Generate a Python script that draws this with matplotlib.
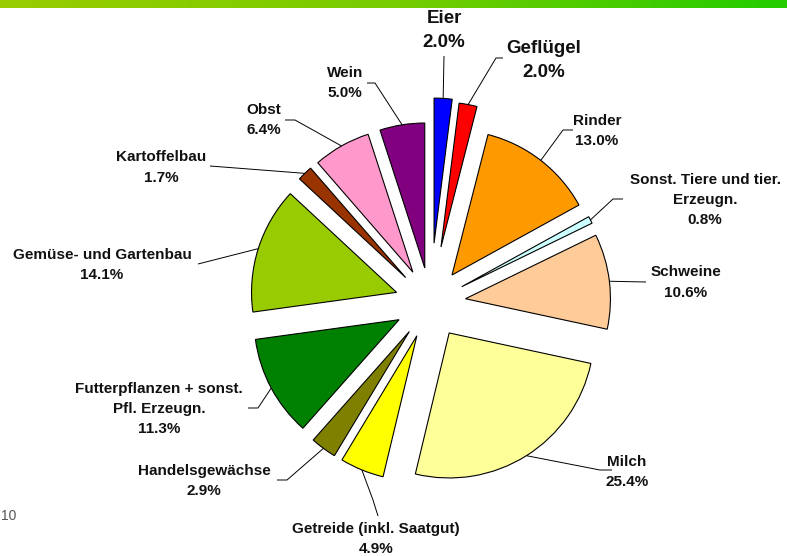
import numpy as np
import matplotlib
matplotlib.use("Agg")
import matplotlib.pyplot as plt
from matplotlib.colors import LinearSegmentedColormap

# ---- data ----
categories = ["Eier", "Geflügel", "Rinder", "Sonst. Tiere und tier.\nErzeugn.", "Schweine",
              "Milch", "Getreide (inkl. Saatgut)", "Handelsgewächse",
              "Futterpflanzen + sonst.\nPfl. Erzeugn.", "Gemüse- und Gartenbau",
              "Kartoffelbau", "Obst", "Wein"]
values = [2.0, 2.0, 13.0, 0.8, 10.6, 25.4, 4.9, 2.9, 11.3, 14.1, 1.7, 6.4, 5.0]
value_labels = ["2.0%", "2.0%", "13.0%", "0.8%", "10.6%", "25.4%", "4.9%", "2.9%",
                "11.3%", "14.1%", "1.7%", "6.4%", "5.0%"]

# ---- style ----
colors = ["#0000FF", "#FF0000", "#FF9900", "#CCFFFF", "#FFCC99", "#FFFF99", "#FFFF00",
          "#808000", "#008000", "#99CC00", "#993300", "#FF99CC", "#800080"]
explode_px = [60, 57, 35.4, 35.4, 35.4, 35.4, 35.4, 35.4, 35.4, 35.4, 35.4, 35.4, 35.4]
big = [True, True] + [False] * 11

W, H = 787, 556
fig = plt.figure(figsize=(W / 100, H / 100), dpi=100)
ax = fig.add_axes([0, 0, 1, 1])

def P(x, y):
    """image pixel coords -> data coords"""
    return (x, H - y)

cx, cy = P(430.3, 303)
R = 145
wedges, _ = ax.pie(values, colors=colors, explode=explode_px, startangle=90,
                   counterclock=False, radius=R, center=(cx, cy),
                   wedgeprops=dict(edgecolor="black", linewidth=0.8))
ax.set_xlim(0, W)
ax.set_ylim(0, H)
ax.set_aspect("equal")
ax.set_axis_off()

# label layout: text center (image px), leader polyline after the arc anchor (image px)
text_pos = [(444, 30.5), (544, 60.5), (597, 131), (705, 200), (686, 282.5),
            (627, 472), (376, 539), (204, 481), (159, 409), (102, 265),
            (161, 167.5), (264, 120), (345, 83)]
leaders = [
    [(444, 56)],
    [(496, 58), (503, 58)],
    [(563, 130), (573, 130)],
    [(613, 199), (623, 199)],
    [(646, 282)],
    [(600, 470), (612, 470)],
    [(373, 500), (378, 516)],
    [(287, 480), (277, 480)],
    [(258, 408), (248, 408)],
    [(198, 264)],
    [(210, 166)],
    [(295, 120), (285, 120)],
    [(375, 83), (367, 83)],
]

for w, cat, vl, tp, ld, b in zip(wedges, categories, value_labels, text_pos, leaders, big):
    tm = np.deg2rad((w.theta1 + w.theta2) / 2)
    ax0 = w.center[0] + w.r * np.cos(tm)
    ay0 = w.center[1] + w.r * np.sin(tm)
    xs = [ax0] + [P(*p)[0] for p in ld]
    ys = [ay0] + [P(*p)[1] for p in ld]
    ax.plot(xs, ys, color="black", lw=0.7, solid_capstyle="butt")
    ax.text(*P(*tp), cat + "\n" + vl, ha="center", va="center", multialignment="center",
            fontsize=13.5 if b else 11, fontweight="bold", family="Liberation Sans",
            linespacing=1.55, color="#111111")

# top gradient bar
bar = fig.add_axes([0, 1 - 8 / H, 1, 8 / H])
cmap = LinearSegmentedColormap.from_list("g", ["#99CC00", "#77CC00", "#22CC00"])
bar.imshow(np.linspace(0, 1, 256)[None, :], aspect="auto", cmap=cmap,
           extent=(0, 1, 0, 1))
bar.set_axis_off()

# page number
fig.text(1 / W, 1 - 516 / H, "10", fontsize=10, color="#555555",
         family="Liberation Sans", va="center", ha="left")

fig.savefig("out.png", dpi=100)
